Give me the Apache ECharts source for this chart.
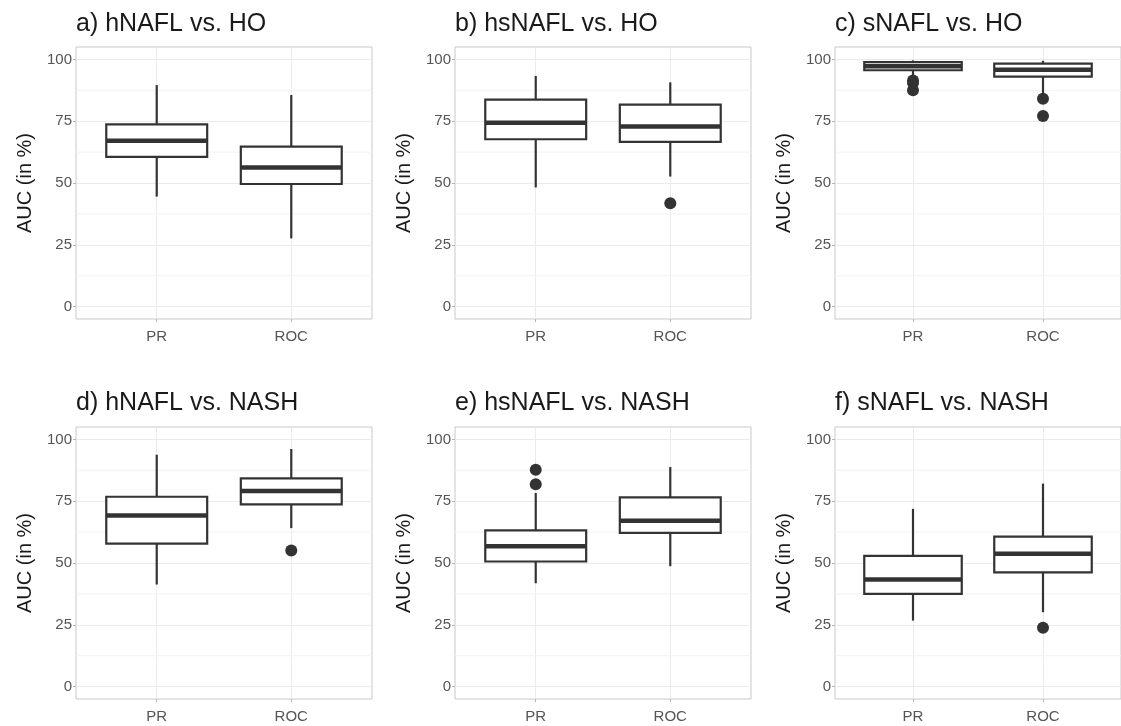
<!DOCTYPE html>
<html>
<head>
<meta charset="utf-8">
<script src="https://cdn.jsdelivr.net/npm/echarts@6/dist/echarts.min.js"></script>
<style>
  html, body { margin: 0; padding: 0; background: #fff; }
  #chart { width: 1121px; height: 726px; }
</style>
</head>
<body>
<div id="chart"></div>
<script>
// panel titles and axis ticks
var panelTitles = ['a) hNAFL vs. HO', 'b) hsNAFL vs. HO', 'c) sNAFL vs. HO',
                   'd) hNAFL vs. NASH', 'e) hsNAFL vs. NASH', 'f) sNAFL vs. NASH'];
var categories = ['PR', 'ROC'];
var yTicks = [0, 25, 50, 75, 100];
var yMinorTicks = [12.5, 37.5, 62.5, 87.5];

// box stats per panel: [lower whisker, Q1, median, Q3, upper whisker]
var prStats = [
  [44.5, 60.6, 67.1, 73.7, 89.6],
  [48.2, 67.7, 74.4, 83.7, 93.3],
  [93.0, 95.6, 97.2, 98.9, 99.6],
  [41.3, 57.8, 69.2, 76.8, 93.8],
  [41.8, 50.6, 56.8, 63.2, 78.3],
  [26.7, 37.5, 43.3, 52.9, 71.9]
];
var rocStats = [
  [27.6, 49.6, 56.3, 64.7, 85.6],
  [52.6, 66.6, 72.8, 81.7, 90.7],
  [85.5, 93.0, 95.8, 98.3, 99.4],
  [64.1, 73.7, 79.1, 84.2, 96.1],
  [48.7, 62.2, 67.1, 76.5, 88.8],
  [30.1, 46.2, 53.7, 60.7, 82.1]
];
// outliers per panel
var prOutliers = [[], [], [91.5, 90.4, 87.5], [], [87.7, 81.8], []];
var rocOutliers = [[], [41.8], [84.1, 77.1], [55.1], [], [23.8]];

var gridLefts = [76, 455, 835];
var gridTops = [47, 427];
var titleTops = [12, 391];

var myChart = echarts.init(document.getElementById('chart'));

var ink = '#333333';

function renderBox(params, api) {
  var x = api.value(0);
  var lo = api.coord([x, api.value(1)]);
  var q1 = api.coord([x, api.value(2)]);
  var med = api.coord([x, api.value(3)]);
  var q3 = api.coord([x, api.value(4)]);
  var hi = api.coord([x, api.value(5)]);
  var left = api.coord([x - 0.375, api.value(3)])[0];
  var right = api.coord([x + 0.375, api.value(3)])[0];
  return {
    type: 'group',
    children: [
      { type: 'line', shape: { x1: lo[0], y1: lo[1], x2: q1[0], y2: q1[1] }, style: { stroke: ink, lineWidth: 2.2 } },
      { type: 'line', shape: { x1: q3[0], y1: q3[1], x2: hi[0], y2: hi[1] }, style: { stroke: ink, lineWidth: 2.2 } },
      { type: 'rect', shape: { x: left, y: q3[1], width: right - left, height: q1[1] - q3[1] },
        style: { fill: '#ffffff', stroke: ink, lineWidth: 2.2 } },
      { type: 'line', shape: { x1: left, y1: med[1], x2: right, y2: med[1] }, style: { stroke: ink, lineWidth: 4.5 } }
    ]
  };
}

function renderMinor(params, api) {
  var a = api.coord([0.4, api.value(1)]);
  var b = api.coord([2.6, api.value(1)]);
  return { type: 'line', shape: { x1: a[0], y1: a[1], x2: b[0], y2: b[1] },
           style: { stroke: '#f2f2f2', lineWidth: 1 } };
}

var option = { animation: false, backgroundColor: '#ffffff', title: [], grid: [], xAxis: [], yAxis: [], series: [] };

panelTitles.forEach(function (t, i) {
  var row = Math.floor(i / 3), col = i % 3;
  option.title.push({
    text: t, left: gridLefts[col], top: titleTops[row], padding: 0,
    textStyle: { fontSize: 25, fontWeight: 'normal', color: '#1a1a1a', fontFamily: 'Liberation Sans' }
  });
  option.grid.push({
    left: gridLefts[col], top: gridTops[row], width: 296, height: 272,
    show: true, borderColor: '#c8c8c8', borderWidth: 1, backgroundColor: 'transparent'
  });
  option.xAxis.push({
    type: 'value', gridIndex: i, min: 0.4, max: 2.6,
    axisLine: { show: false, onZero: false },
    axisTick: { show: true, length: 3, customValues: [1, 2], lineStyle: { color: '#b3b3b3' } },
    axisLabel: {
      customValues: [1, 2], margin: 10, fontSize: 15, color: '#555555', fontFamily: 'Liberation Sans',
      formatter: function (v) { return categories[Math.round(v) - 1]; }
    },
    splitLine: { show: true, lineStyle: { color: '#ebebeb', width: 1 } }
  });
  option.yAxis.push({
    type: 'value', gridIndex: i, min: -5, max: 105,
    name: 'AUC (in %)', nameLocation: 'middle', nameGap: 41,
    nameTextStyle: { fontSize: 20, color: '#1a1a1a', fontFamily: 'Liberation Sans' },
    axisLine: { show: false, onZero: false },
    axisTick: { show: true, length: 3, customValues: yTicks, lineStyle: { color: '#b3b3b3' } },
    axisLabel: { customValues: yTicks, margin: 4, fontSize: 15, color: '#555555', fontFamily: 'Liberation Sans' },
    splitLine: { show: true, lineStyle: { color: '#ebebeb', width: 1 } }
  });
  option.series.push({
    type: 'custom', xAxisIndex: i, yAxisIndex: i, z: 1, silent: true,
    renderItem: renderMinor,
    data: yMinorTicks.map(function (v) { return [1, v]; })
  });
  option.series.push({
    type: 'custom', xAxisIndex: i, yAxisIndex: i, z: 3,
    renderItem: renderBox,
    encode: { x: 0, y: [1, 2, 3, 4, 5] },
    data: [[1].concat(prStats[i]), [2].concat(rocStats[i])]
  });
  option.series.push({
    type: 'scatter', xAxisIndex: i, yAxisIndex: i, z: 4,
    symbolSize: 12, itemStyle: { color: ink, opacity: 1 },
    data: prOutliers[i].map(function (v) { return [1, v]; })
      .concat(rocOutliers[i].map(function (v) { return [2, v]; }))
  });
});

myChart.setOption(option);
</script>
</body>
</html>
